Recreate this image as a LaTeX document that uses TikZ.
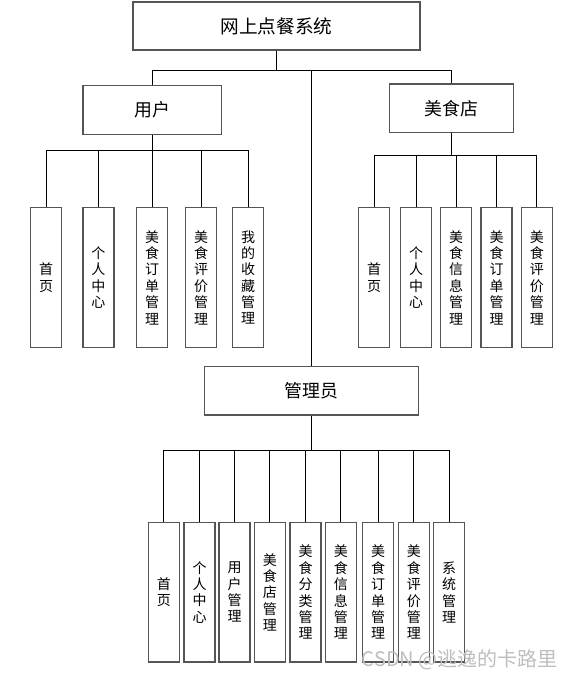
\documentclass[tikz,border=0pt]{standalone}
\usepackage{fontspec}
\setmainfont{Noto Sans CJK SC}
\definecolor{boxline}{RGB}{85,85,85}
\definecolor{wm}{RGB}{190,190,190}
\tikzset{
  box/.style={draw=boxline, line width=1.1pt, fill=white, rectangle, inner sep=0pt, align=center},
  topbox/.style={box, minimum width=287*0.75pt, minimum height=48*0.75pt, font=\fontsize{14pt}{16pt}\selectfont},
  midbox/.style={box, minimum height=48.6*0.75pt, font=\fontsize{13.4pt}{16pt}\selectfont},
  leafbox/.style={box, minimum width=31*0.75pt, minimum height=139.6*0.75pt, font=\fontsize{10.5pt}{12.3pt}\selectfont},
  conn/.style={draw=black, line width=0.75pt}
}
\begin{document}
\begin{tikzpicture}[x=0.75pt, y=-0.75pt]
\useasboundingbox (0,0) rectangle (575,678);
% bars
\coordinate (b1) at (0,70.3);
\coordinate (ub) at (0,150.3);
\coordinate (sb) at (0,155.3);
\coordinate (ab) at (0,450.5);
% main nodes
\node[topbox] (top) at (276.5,26) {网上点餐系统};
\node[midbox, minimum width=138.5*0.75pt] (user) at (152.2,110) {用户};
\node[midbox, minimum width=124*0.75pt] (shop) at (451.3,108.3) {美食店};
\node[midbox, minimum width=214*0.75pt] (admin) at (311.3,390.8) {管理员};
% user leaves
\node[leafbox] (u1) at (46.2,277.5) {首\\页};
\node[leafbox] (u2) at (98.3,277.5) {个\\人\\中\\心};
\node[leafbox] (u3) at (152.2,277.5) {美\\食\\订\\单\\管\\理};
\node[leafbox] (u4) at (201,277.5) {美\\食\\评\\价\\管\\理};
\node[leafbox] (u5) at (248.2,277.5) {我\\的\\收\\藏\\管\\理};
% shop leaves
\node[leafbox] (s1) at (374.2,277.5) {首\\页};
\node[leafbox] (s2) at (416.2,277.5) {个\\人\\中\\心};
\node[leafbox] (s3) at (456.2,277.5) {美\\食\\信\\息\\管\\理};
\node[leafbox] (s4) at (496.5,277.5) {美\\食\\订\\单\\管\\理};
\node[leafbox] (s5) at (536.8,277.5) {美\\食\\评\\价\\管\\理};
% admin leaves
\node[leafbox] (a1) at (163.8,592.3) {首\\页};
\node[leafbox] (a2) at (199.5,592.3) {个\\人\\中\\心};
\node[leafbox] (a3) at (234.7,592.3) {用\\户\\管\\理};
\node[leafbox] (a4) at (269.8,592.3) {美\\食\\店\\管\\理};
\node[leafbox] (a5) at (305.5,592.3) {美\\食\\分\\类\\管\\理};
\node[leafbox] (a6) at (340.8,592.3) {美\\食\\信\\息\\管\\理};
\node[leafbox] (a7) at (378.2,592.3) {美\\食\\订\\单\\管\\理};
\node[leafbox] (a8) at (413.8,592.3) {美\\食\\评\\价\\管\\理};
\node[leafbox] (a9) at (449.2,592.3) {系\\统\\管\\理};
% top-level connectors
\draw[conn] (top.south) -- (top.south |- b1);
\draw[conn] (user.north) |- (shop.north |- b1) -- (shop.north);
\draw[conn] (admin.north) -- (admin.north |- b1);
% user connectors
\draw[conn] (user.south) -- (user.south |- ub);
\foreach \c in {u1,u2,u3,u4,u5} \draw[conn] (user.south |- ub) -| (\c.north);
% shop connectors
\draw[conn] (shop.south) -- (shop.south |- sb);
\foreach \c in {s1,s2,s3,s4,s5} \draw[conn] (shop.south |- sb) -| (\c.north);
% admin connectors
\draw[conn] (admin.south) -- (admin.south |- ab);
\foreach \c in {a1,a2,a3,a4,a5,a6,a7,a8,a9} \draw[conn] (admin.south |- ab) -| (\c.north);
% watermark
\node[anchor=east, text=wm, inner sep=0pt, font=\fontsize{15pt}{17pt}\selectfont] (wmark) at (558,659.5) {CSDN @逃逸的卡路里};
\end{tikzpicture}
\end{document}
